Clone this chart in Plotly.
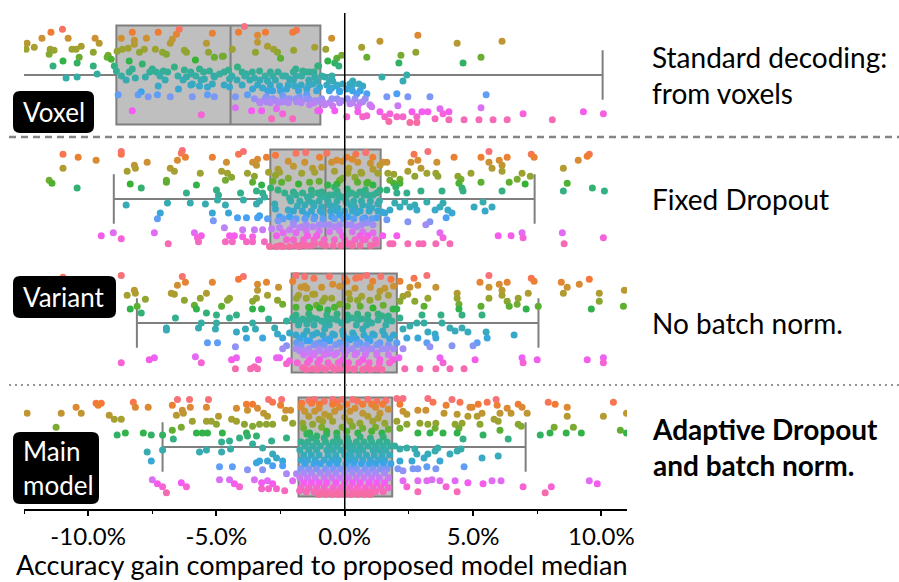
import math
import plotly.graph_objects as go

# ---------------- data ----------------
categories = ["Voxel", "Fixed Dropout", "No batch norm.", "Main"]
side_labels = ["Standard decoding:<br>from voxels", "Fixed Dropout", "No batch norm.",
               "<b>Adaptive Dropout<br>and batch norm.</b>"]
tick_vals = [-10, -5, 0, 5, 10]
tick_text = ["-10.0%", "-5.0%", "0.0%", "5.0%", "10.0%"]

# box statistics (accuracy gain, %)
box_lo = [-13.5, -9.0, -8.1, -7.1]
box_q1 = [-8.9, -2.9, -2.07, -1.8]
box_med = [-4.45, -0.75, -0.08, 0.0]
box_q3 = [-0.95, 1.4, 2.03, 1.85]
box_hi = [10.05, 7.4, 7.55, 7.05]

# individual results: (gain %, subject rank 0..1)
voxel_pts = [
(-11.8,.13),(-11.45,.07),(-11.0,.04),(-10.78,.13),(-9.73,.13),(-8.28,.07),(-7.27,.07),(-6.45,.04),(-6.56,.09),(-6.72,.14),(-6.8,.18),(-5.16,.08),(-4.14,.07),(-3.91,.01),(-3.4,.10),(-3.09,.07),(-2.03,.07),(-1.88,.05),(-3.4,.17),(-8.71,.13),(-8.2,.15),(-8.2,.19),(-7.73,.13),
(-12.38,.18),(-12.42,.24),(-12.1,.22),(-11.48,.24),(-11.33,.25),(-11.52,.29),(-10.63,.24),(-10.47,.24),(-10.27,.21),(-9.8,.27),(-9.57,.18),(-9.22,.30),(-8.87,.26),(-8.67,.24),(-8.44,.23),(-8.0,.27),(-7.81,.24),(-7.38,.24),(-7.1,.27),(-6.95,.29),(-6.25,.25),(-6.17,.27),(-5.39,.18),(-5.31,.27),(-4.73,.31),(-4.38,.24),(-3.48,.27),(-3.01,.21),(-2.77,.24),(-2.62,.27),(-1.99,.25),(-1.17,.22),(-0.74,.24),
(-11.37,.41),(-10.98,.36),(-10.35,.32),(-10.43,.38),(-9.26,.32),(-9.1,.34),(-8.4,.36),(-7.89,.39),(-5.82,.35),(-5.08,.32),(-4.77,.31),(-2.5,.33),(-1.05,.41),
(-9.8,.41),(-9.65,.49),(-10.86,.53),(-10.43,.52),(-8.98,.41),(-8.9,.46),(-8.52,.55),(-8.28,.44),(-8.16,.53),(-7.77,.52),(-7.5,.44),(-7.34,.47),(-7.07,.46),(-6.64,.42),(-6.25,.45),(-6.17,.52),(-5.98,.49),(-5.66,.44),(-5.47,.54),(-5.27,.46),(-5.08,.52),(-4.88,.49),(-4.53,.45),(-4.49,.54),(-4.18,.42),(-3.83,.49),(-3.52,.53),(-3.32,.46),(-3.01,.56),(-2.81,.51),(-2.42,.51),(-2.15,.54),(-1.91,.44),(-1.68,.51),(-1.37,.47),(-1.09,.56),(-1.02,.41),
(-6.48,.64),(-7.27,.61),(-7.93,.67),(-5.94,.59),(-5.66,.61),(-5.35,.62),(-5.16,.59),(-4.49,.62),(-3.59,.64),(-3.2,.63),(-2.81,.66),(-2.54,.61),(-2.27,.64),(-1.95,.61),(-1.48,.64),(-1.25,.59),(-0.98,.62),
(-8.83,.70),(-8.05,.70),(-7.66,.72),(-7.3,.70),(-6.8,.72),(-5.94,.72),(-5.35,.70),(-5.08,.72),(-4.26,.72),(-3.79,.70),(-3.05,.72),(-2.42,.71),(-1.76,.72),(-1.48,.70),
(-3.52,.74),(-3.32,.77),(-3.05,.77),(-2.66,.76),(-2.42,.77),(-2.15,.74),(-1.88,.77),(-1.68,.76),(-1.37,.80),(-1.05,.76),(-0.78,.80),
(-8.28,.86),(-5.59,.90),(-4.26,.83),(-3.63,.86),(-3.24,.86),(-2.66,.84),(-2.42,.89),(-2.85,.94),(-2.03,.94),(-1.05,.86),
(-0.51,.13),(1.37,.16),(2.85,.10),(4.38,.18),(6.13,.16),(0.66,.22),(2.77,.27),(2.19,.30),(0.86,.32),(-0.66,.36),(-0.39,.38),(-0.23,.41),(-0.31,.33),(-0.12,.30),(2.11,.38),(4.61,.38),(5.31,.32),
(-1.64,.46),(-1.17,.52),(-0.78,.52),(-0.47,.56),(-0.31,.61),(-0.08,.59),(0.2,.59),(0.31,.56),(0.55,.59),(0.7,.61),(1.45,.52),(2.42,.50),(2.27,.56),(-0.51,.63),(-0.2,.67),(0.08,.64),(0.47,.69),(0.86,.69),(1.64,.72),(2.03,.69),(2.46,.72),(3.32,.72),(5.51,.70),
(-1.48,.74),(-1.17,.76),(-0.86,.77),(-0.47,.81),(-0.12,.76),(0.2,.79),(0.51,.82),(0.7,.77),(0.98,.80),(1.05,.82),(-0.98,.86),(-0.39,.86),(0.08,.92),(0.51,.87),(0.7,.92),(0.86,.91),(1.37,.87),(1.56,.92),(1.76,.89),(1.72,.97),(2.03,.92),(2.07,.81),(2.27,.92),(2.54,.98),(2.62,.87),(2.81,.98),(2.81,.92),(3.01,.87),(3.24,.87),(3.52,.94),(3.71,.84),(3.83,.89),(4.06,.87),(4.06,.95),(4.65,.95),(5.23,.95),(5.31,.83),(5.78,.95),(6.33,.95),(6.95,.89),(8.09,.95),(9.3,.87),(10.08,.89),
]
# dense band inside the voxel box: (subject rank, gains)
voxel_rows = [
(.47, [-8.4,-7.6,-6.9,-6.0,-5.5,-4.7,-4.0,-3.6,-2.9,-2.6,-2.0,-1.5,-1.2]),
(.51, [-8.7,-7.2,-6.5,-5.8,-5.1,-4.4,-3.9,-3.1,-2.3,-1.9,-0.9,-0.5]),
(.55, [-7.0,-6.3,-5.6,-4.2,-3.7,-3.3,-2.7,-2.0,-1.4,-0.6]),
(.60, [-6.0,-4.7,-4.0,-3.4,-2.9,-2.2,-1.7,-1.4,-0.7,-0.3,0.3]),
(.66, [-3.0,-2.5,-1.8,-1.1,-0.6,-0.2,0.3,0.6]),
(.74, [-3.1,-2.8,-2.3,-1.9,-1.4,-0.9,-0.5,-0.3,0.1,0.4,0.8]),
(.78, [-3.3,-2.9,-2.6,-2.2,-1.7,-1.2,-0.9,-0.6,-0.2,0.3,0.6]),
]

fixed_pts = [
(-10.98,.05),(-10.39,.08),(-9.69,.11),(-8.71,.02),(-8.71,.05),(-6.33,.01),(-6.37,.04),(-6.21,.08),(-6.52,.11),(-5.16,.08),(-4.14,.05),(-3.95,.02),(-3.4,.10),(-3.05,.08),(-7.7,.13),(-4.61,.13),(-3.59,.13),(-3.44,.16),
(-10.98,.19),(-8.48,.22),(-8.2,.16),(-8.16,.19),(-6.8,.19),(-6.64,.22),(-5.63,.24),(-4.8,.22),(-4.57,.24),(-4.41,.28),(-3.79,.24),(-3.52,.27),(-2.97,.23),(-2.7,.26),(-2.54,.23),(-6.95,.31),(-6.95,.33),(-11.52,.31),(-11.41,.34),(-4.65,.31),(-3.59,.33),(-2.46,.33),
(-10.43,.39),(-8.36,.35),(-7.93,.39),(-5.78,.36),(-3.24,.36),(-2.89,.39),(-1.37,.33),
(-6.17,.44),(-5.0,.41),(-4.92,.46),(-4.96,.51),(-4.06,.44),(-3.95,.51),(-3.44,.42),(-3.2,.44),(-3.13,.48),(-8.52,.56),(-6.91,.54),(-6.02,.54),(-5.43,.55),(-4.65,.56),(-3.44,.55),(-3.32,.52),(-2.73,.55),(-2.34,.44),(-2.15,.49),
(-7.19,.64),(-7.3,.70),(-5.16,.64),(-5.12,.72),(-4.53,.64),(-4.18,.69),(-3.83,.69),(-3.4,.69),(-3.32,.67),(-3.01,.70),(-2.54,.68),(-2.15,.68),
(-4.69,.79),(-3.98,.81),(-3.52,.81),(-3.2,.81),(-2.85,.80),(-2.54,.79),(-2.15,.81),(-1.76,.79),
(-9.49,.87),(-9.02,.84),(-8.71,.90),(-7.42,.84),(-6.88,.95),(-5.86,.84),(-5.74,.89),(-5.59,.87),(-5.7,.93),(-4.65,.93),(-4.49,.87),(-4.3,.87),(-4.38,.93),(-3.98,.88),(-3.83,.93),(-3.59,.88),(-3.59,.93),(-3.13,.93),(-2.93,.98),(-2.66,.98),(-2.42,.98),(-2.15,.98),(-1.76,.98),(-2.66,.87),(-2.27,.91),
(-1.52,.03),(-0.98,.08),(0.08,.08),(0.43,.05),(0.82,.03),(1.09,.08),(-1.56,.13),(-0.51,.13),(-0.31,.11),(0.51,.13),(1.37,.16),(1.48,.13),
(-1.68,.24),(-1.25,.19),(-1.17,.23),(0.16,.19),(0.12,.24),(-0.2,.31),(-0.08,.29),(0.63,.23),(0.66,.24),(1.29,.24),(0.9,.33),(-0.66,.36),(-0.39,.38),(0.86,.34),
(-1.64,.44),(-1.45,.48),(-1.05,.44),(-0.78,.48),(-0.47,.46),(-0.12,.48),(0.27,.44),(0.59,.43),(0.9,.46),(1.25,.44),(1.37,.41),(-1.56,.56),(-1.25,.54),(-0.9,.58),(-0.59,.56),(-0.27,.59),(0.08,.54),(0.39,.58),(0.7,.56),(1.05,.59),(1.29,.55),(-1.48,.66),(-1.17,.68),(-0.86,.64),(-0.51,.68),(-0.2,.66),(0.12,.68),(0.47,.64),(0.78,.69),(1.25,.69),(1.45,.63),
(-1.64,.78),(-1.25,.78),(-0.78,.76),(-0.39,.78),(0.08,.76),(0.47,.78),(0.86,.74),(-1.45,.87),(-1.09,.87),(-0.08,.87),(0.59,.87),(0.9,.87),(-1.68,.96),(-1.17,.95),(-0.9,.95),(0.08,.95),(0.2,.95),(0.7,.91),(1.21,.95),
(-2.7,.06),(-2.2,.12),(-1.9,.04),(-0.7,.04),(-0.1,.12),(0.3,.10),(1.0,.14),
(-2.6,.20),(-2.0,.17),(-0.9,.18),(-0.4,.22),(0.4,.28),(1.1,.20),
(-2.8,.32),(-2.2,.29),(-1.8,.35),(-1.0,.32),(-0.3,.35),(0.5,.33),(1.1,.36),
(-2.6,.41),(-2.0,.43),(-1.3,.41),(-0.9,.43),(-0.3,.42),(0.1,.40),(0.8,.41),
(-2.7,.60),(-2.2,.61),(-2.6,.72),(-2.0,.73),(-2.4,.84),(-1.9,.84),(-1.5,.82),(-1.0,.82),(-0.6,.83),(-0.2,.82),(0.3,.83),(0.7,.83),(1.1,.84),
(2.7,.05),(3.24,.02),(4.26,.08),(5.31,.08),(5.62,.02),(6.02,.11),(6.33,.08),(7.27,.05),(7.38,.08),(9.1,.11),(9.45,.07),(9.53,.05),(2.58,.13),(2.85,.11),(3.59,.13),(5.62,.13),(6.13,.16),(1.64,.13),
(2.46,.22),(2.73,.27),(2.97,.19),(3.2,.24),(3.55,.24),(3.63,.27),(4.41,.27),(4.53,.30),(4.92,.24),(5.74,.19),(6.13,.22),(6.91,.24),(7.23,.27),(6.72,.30),(8.52,.19),(1.68,.24),(1.91,.25),(2.15,.30),(1.76,.31),
(1.91,.34),(1.99,.38),(2.15,.34),(4.45,.34),(4.57,.39),(5.31,.33),(6.41,.33),(7.03,.35),(8.67,.34),(8.52,.42),(9.65,.39),(10.12,.42),(2.97,.42),(3.79,.42),(4.61,.42),(6.13,.42),
(1.64,.41),(2.03,.44),(2.42,.44),(1.95,.54),(2.15,.58),(2.34,.53),(2.54,.58),(2.73,.56),(2.81,.61),(3.2,.53),(3.52,.61),(3.71,.58),(3.83,.54),(4.02,.61),(4.18,.64),(5.04,.58),(5.39,.53),(5.47,.62),(5.74,.58),(1.76,.61),(1.56,.64),
(1.64,.71),(2.46,.73),(3.16,.76),(3.32,.73),(3.95,.69),
(1.48,.87),(2.03,.87),(3.71,.84),(3.83,.89),(5.98,.87),(6.48,.87),(6.91,.84),(6.95,.89),(8.48,.84),(8.55,.95),(10.08,.89),(1.76,.95),(1.88,.95),(2.46,.95),(2.89,.95),(3.05,.95),(3.55,.95),(4.1,.95),
]
fixed_rows = [
(.46, [-1.9,-1.3,-0.95,-0.6,-0.25,0.1,0.45,0.75,1.1]),
(.52, [-2.1,-1.75,-1.4,-1.0,-0.65,-0.3,0.05,0.35,0.65,1.0,1.35]),
(.57, [-1.85,-1.2,-0.4,0.25,0.95]),
(.62, [-2.0,-1.65,-1.3,-0.95,-0.55,-0.3,0.0,0.3,0.6,0.95,1.3]),
(.70, [-2.4,-1.9,-1.55,-1.2,-0.85,-0.4,-0.05,0.35,0.7,1.05]),
(.76, [-2.0,-1.5,-1.0,-0.6,-0.2,0.25,0.65,1.1]),
(.91, [-2.0,-1.6,-1.2,-0.8,-0.4,0.0,0.4,0.8,1.2]),
(.97, [-2.5,-1.9,-1.5,-1.3,-0.75,-0.45,-0.15,0.3,0.6,1.0]),
]

variant_pts = [
(-10.98,.04),(-8.71,.02),(-8.48,.22),(-8.2,.17),(-8.16,.20),(-7.77,.26),(-8.09,.33),(-8.36,.36),(-7.93,.40),(-6.33,.03),(-6.52,.12),(-6.21,.09),(-6.76,.20),(-6.64,.21),(-6.25,.27),(-5.63,.25),(-5.39,.20),(-5.16,.09),(-5.86,.32),(-5.78,.36),(-5.39,.40),(-5.0,.42),(-4.8,.33),(-4.57,.27),(-4.49,.25),(-4.14,.06),(-3.95,.03),(-3.4,.11),(-3.05,.09),(-3.4,.17),(-3.01,.22),(-2.58,.14),(-3.59,.28),(-3.44,.25),(-2.62,.27),(-2.42,.31),(-3.59,.36),(-3.24,.36),(-4.22,.42),(-4.49,.45),(-6.6,.45),(-6.95,.55),(-6.95,.57),(-5.7,.55),(-5.59,.50),(-5.0,.50),(-5.04,.56),(-4.22,.59),(-3.87,.56),(-3.59,.50),(-3.48,.56),(-3.2,.65),(-2.97,.46),(-2.73,.55),(-2.62,.61),(-3.83,.65),(-5.35,.70),(-4.96,.70),(-4.26,.74),(-2.42,.76),(-2.54,.85),(-8.71,.90),(-7.62,.87),(-7.42,.85),(-5.82,.84),(-5.59,.90),(-4.41,.87),(-4.22,.85),(-4.26,.96),(-3.67,.96),(-3.52,.94),(-3.4,.96),(-3.36,.87),(-2.66,.85),(-2.27,.91),(-2.15,.88),
(-2.27,.48),(-2.03,.45),(-1.76,.48),(-1.48,.51),(-1.09,.46),(-0.78,.50),(-1.88,.25),(-1.48,.15),(-1.25,.21),(-0.86,.28),(-1.56,.03),(-2.03,.08),(-1.37,.35),(-0.98,.35),(-2.42,.65),(-1.88,.70),(-1.48,.68),(-1.09,.71),(-0.78,.68),(-1.76,.78),(-1.37,.80),(-0.98,.78),(-0.66,.81),(-1.64,.95),(-1.25,.96),(-0.9,.95),(-2.15,.60),(-2.27,.73),
(0.08,.08),(0.43,.05),(0.86,.02),(1.09,.08),(-0.47,.11),(-1.56,.13),(0.16,.20),(0.66,.23),(0.98,.27),(1.37,.18),(1.56,.15),(-1.17,.21),(-0.78,.25),(-0.51,.25),(-0.2,.31),(-1.41,.34),(-0.66,.37),(1.88,.36),(-1.64,.46),(-1.25,.45),(-0.9,.48),(-0.51,.46),(-0.12,.50),(0.27,.45),(0.66,.46),(1.05,.50),(1.45,.43),(1.84,.48),(-1.48,.58),(-1.09,.60),(-0.78,.56),(-0.47,.61),(-0.08,.58),(0.31,.60),(0.7,.56),(1.09,.61),(1.48,.58),(-1.37,.68),(-0.98,.70),(-0.59,.68),(-0.2,.70),(0.2,.67),(0.59,.70),(0.98,.68),(1.37,.70),(2.03,.70),(-1.56,.78),(-1.17,.80),(-0.7,.78),(-0.31,.80),(0.08,.78),(0.47,.80),(0.86,.78),(1.25,.80),(1.64,.76),(-1.37,.87),(-0.98,.87),(-0.08,.87),(0.7,.87),(1.37,.87),(1.88,.87),(-0.51,.94),(-0.2,.96),(0.12,.95),(0.39,.96),(0.86,.95),(1.25,.96),
(-1.9,.02),(-1.2,.05),(-0.6,.03),(0.0,.05),(0.6,.04),(1.4,.03),(1.8,.06),
(-1.7,.14),(-0.9,.14),(-0.2,.13),(0.4,.15),(1.0,.14),(1.9,.13),
(-1.8,.22),(-1.5,.25),(0.2,.26),(0.5,.27),(1.3,.24),(1.7,.22),
(-1.9,.34),(-1.1,.32),(-0.4,.34),(0.1,.33),(0.6,.33),(1.1,.35),(1.5,.32),
(-1.9,.42),(-1.4,.41),(-0.7,.42),(-0.3,.41),(0.1,.42),(0.5,.41),(0.9,.42),(1.3,.41),(1.7,.43),
(2.15,.08),(2.54,.14),(2.7,.05),(2.85,.12),(3.2,.02),(3.55,.14),(5.27,.09),(5.62,.02),(5.62,.14),(6.02,.11),(6.33,.09),(6.13,.17),(6.13,.22),(7.27,.05),(7.38,.08),(7.15,.20),(8.44,.09),(8.67,.14),(9.14,.11),(9.53,.06),(8.52,.20),(9.92,.20),(10.9,.17),
(2.27,.23),(2.46,.21),(2.73,.28),(3.24,.25),(4.38,.20),(4.38,.25),(4.45,.31),(5.62,.25),(6.33,.28),(6.41,.33),(6.76,.25),(6.72,.31),(9.92,.28),(2.15,.28),
(2.03,.36),(3.09,.33),(4.45,.36),(5.31,.33),(7.07,.36),(7.54,.33),(9.61,.36),(10.86,.33),
(2.15,.45),(3.01,.42),(3.09,.50),(3.75,.42),(3.79,.50),(4.57,.42),(5.35,.42),(2.27,.56),(2.54,.53),(2.81,.50),(3.24,.59),(3.52,.61),(4.1,.55),(4.3,.58),(4.57,.55),(4.8,.59),(5.51,.59),(5.55,.65),(6.6,.62),(2.42,.65),(2.85,.65),
(2.27,.76),(3.2,.70),(3.32,.74),(3.55,.65),(4.18,.73),(5.0,.73),(5.16,.70),
(2.11,.85),(3.71,.85),(3.83,.90),(5.08,.87),(6.91,.85),(6.95,.90),(7.5,.87),(9.45,.87),(10.08,.85),(10.08,.90),(2.34,.96),(2.93,.96),(3.55,.96),(4.1,.96),(4.65,.96),
]
variant_rows = [
(.47, [-1.95,-1.4,-0.7,-0.3,0.1,0.5,0.9,1.3,1.65]),
(.52, [-1.8,-1.2,-0.6,0.45,0.85,1.6]),
(.62, [-1.9,-1.6,-1.25,-0.85,-0.4,-0.05,0.35,0.75,1.15,1.55,1.9]),
(.66, [-1.75,-0.6,0.1,0.45,0.9,1.75]),
(.72, [-1.7,-1.2,-0.8,-0.35,0.05,0.45,0.85,1.25,1.7]),
(.76, [-1.9,-1.4,-1.0,-0.55,-0.1,0.3,0.7,1.05,1.45,1.9]),
(.82, [-1.6,-1.2,-0.8,-0.4,0.0,0.4,0.8,1.25,1.7]),
(.90, [-1.85,-1.45,-1.05,-0.65,-0.25,0.15,0.55,0.95,1.35,1.75]),
(.97, [-1.5,-1.1,-0.75,-0.4,0.05,0.35,0.7,1.0,1.45]),
]

main_pts = [
(-12.38,.16),(-11.25,.30),(-11.05,.16),(-10.47,.10),(-10.27,.16),(-9.69,.06),(-9.49,.06),(-9.61,.08),(-9.18,.18),(-8.98,.22),(-8.71,.22),(-8.87,.38),(-8.55,.36),(-8.24,.05),(-8.16,.10),(-7.66,.10),(-7.85,.36),(-7.54,.38),(-7.7,.55),(-7.54,.64),(-7.1,.38),(-7.1,.53),(-6.72,.08),(-6.52,.02),(-6.05,.02),(-6.02,.10),(-6.33,.13),(-6.56,.18),(-6.29,.16),(-5.94,.24),(-5.31,.02),(-5.39,.10),(-6.72,.33),(-6.37,.30),(-6.68,.42),(-5.78,.36),(-5.55,.36),(-5.35,.36),(-5.39,.24),(-5.2,.24),(-5.0,.27),(-4.92,.19),(-4.77,.36),(-5.66,.55),(-5.39,.53),(-4.8,.55),(-4.8,.45),(-4.49,.44),(-4.45,.52),(-4.22,.11),(-3.83,.07),(-3.59,.07),(-3.79,.13),(-3.4,.11),(-3.16,.16),(-2.97,.02),(-2.81,.05),(-2.5,.08),(-2.46,.02),(-2.3,.13),(-2.11,.13),(-4.41,.22),(-4.22,.24),(-3.91,.27),(-3.59,.29),(-3.32,.27),(-3.05,.27),(-2.81,.27),(-3.01,.19),(-2.34,.21),(-2.03,.26),(-3.79,.39),(-3.44,.39),(-3.83,.36),(-4.1,.41),(-3.59,.47),(-3.2,.51),(-2.85,.44),(-2.27,.41),(-2.81,.57),(-3.01,.64),(-3.32,.64),(-3.44,.66),(-2.66,.61),(-2.42,.64),(-2.81,.69),(-2.42,.69),(-4.88,.70),(-4.38,.70),(-3.79,.73),(-3.2,.73),(-2.27,.77),(-7.5,.83),(-7.3,.87),(-7.1,.90),(-6.95,.96),(-6.37,.86),(-6.17,.90),(-4.88,.83),(-4.49,.83),(-4.3,.87),(-4.1,.90),(-3.52,.83),(-3.24,.86),(-3.01,.84),(-3.24,.92),(-2.97,.92),(-2.66,.92),(-2.34,.94),(-2.81,.87),(-1.88,.77),(-2.03,.84),(-1.76,.94),
(-1.68,.06),(-1.29,.06),(-0.98,.07),(-1.56,.14),(-1.17,.14),(-0.78,.17),(-1.64,.26),(-1.25,.27),(-0.86,.24),(-1.48,.37),(-1.09,.39),(-0.7,.37),
(-1.17,.02),(-0.47,.02),(-0.08,.02),(0.31,.02),(1.25,.04),(-0.47,.07),(0.08,.07),(0.7,.07),(1.05,.07),(1.48,.07),(-0.39,.14),(0.2,.14),(0.7,.16),(1.37,.16),(-0.47,.24),(0.2,.24),(0.59,.26),(1.09,.24),(1.56,.26),(-1.37,.36),(-0.7,.34),(-0.31,.36),(0.08,.34),(0.51,.36),(1.05,.34),(1.45,.36),
(-1.4,.03),(-0.8,.04),(-0.3,.05),(0.5,.04),(0.9,.02),(1.6,.03),
(-1.7,.10),(-1.0,.11),(-0.2,.10),(0.4,.11),(1.2,.10),(1.7,.12),
(-1.4,.19),(-0.6,.19),(0.0,.20),(0.9,.19),(1.3,.21),(-1.0,.22),
(-1.6,.31),(-0.9,.30),(-0.1,.30),(0.3,.29),(0.7,.31),(1.2,.30),(1.7,.32),
(-1.3,.41),(-0.8,.41),(-0.3,.40),(0.1,.41),(0.6,.40),(1.0,.41),(1.5,.40),
(2.03,.01),(2.27,.01),(2.15,.07),(2.27,.14),(2.42,.17),(3.24,.01),(3.44,.05),(3.95,.08),(4.18,.02),(4.49,.05),(4.88,.10),(4.96,.10),(5.2,.07),(5.55,.05),(5.9,.02),(5.94,.08),(6.33,.11),(6.76,.07),(6.91,.10),(7.11,.16),(7.93,.05),(8.2,.07),(8.67,.10),(10.47,.05),(2.85,.13),(3.16,.13),(3.87,.16),(4.38,.17),(4.8,.19),(5.16,.19),(5.35,.16),(5.82,.22),(6.05,.16),(6.48,.16),(8.67,.19),(10.08,.19),(10.98,.16),
(2.03,.24),(2.15,.31),(2.42,.27),(2.93,.26),(3.24,.27),(3.55,.26),(3.52,.31),(4.3,.27),(4.57,.26),(4.45,.31),(5.27,.27),(5.98,.24),(6.76,.27),(6.88,.29),(8.16,.30),(8.91,.30),(10.74,.33),(10.98,.36),
(2.85,.36),(3.32,.36),(3.83,.36),(4.38,.36),(5.39,.38),(6.05,.33),(7.62,.38),(8.0,.36),(8.63,.36),(9.22,.36),(4.61,.42),(6.37,.42),
(1.95,.49),(2.15,.52),(2.42,.51),(2.73,.52),(2.81,.57),(3.09,.61),(3.24,.57),(3.52,.54),(3.63,.51),(3.71,.64),(4.1,.57),(4.38,.54),(4.53,.52),(5.35,.61),(5.98,.59),(2.15,.64),(2.62,.64),
(2.07,.72),(2.27,.74),(2.66,.72),(2.85,.72),(3.2,.70),(3.55,.72),(4.65,.70),
(2.27,.84),(2.42,.90),(2.85,.84),(2.85,.95),(3.2,.84),(3.4,.83),(3.71,.84),(3.95,.90),(4.3,.84),(4.38,.95),(4.8,.86),(5.39,.87),(5.74,.84),(6.09,.84),(6.95,.90),(7.81,.96),(8.05,.90),(9.53,.84),(9.84,.87),
]
main_rows = [
(.45, [-1.7,-1.45,-1.1,-0.75,-0.45,-0.2,0.15,0.45,0.75,1.05,1.35,1.65]),
(.49, [-1.55,-1.25,-0.95,-0.6,-0.3,0.05,0.3,0.6,0.9,1.2,1.5,1.8]),
(.53, [-1.75,-1.4,-1.1,-0.7,-0.45,-0.15,0.2,0.45,0.7,1.1,1.35,1.6]),
(.58, [-1.6,-1.3,-1.0,-0.65,-0.35,0.0,0.25,0.55,0.85,1.15,1.45,1.75]),
(.63, [-1.7,-1.45,-1.15,-0.8,-0.5,-0.25,0.15,0.4,0.7,1.0,1.3,1.55]),
(.67, [-1.55,-1.2,-0.95,-0.6,-0.3,0.05,0.35,0.65,0.95,1.2,1.5,1.8]),
(.72, [-1.7,-1.4,-1.1,-0.75,-0.45,-0.15,0.2,0.45,0.8,1.1,1.4,1.65]),
(.76, [-1.6,-1.3,-0.95,-0.65,-0.35,0.0,0.3,0.6,0.9,1.2,1.55]),
(.81, [-1.75,-1.45,-1.15,-0.8,-0.5,-0.2,0.15,0.45,0.75,1.05,1.35,1.7]),
(.86, [-1.6,-1.3,-1.0,-0.7,-0.35,0.0,0.3,0.6,0.95,1.25,1.55]),
(.91, [-1.7,-1.4,-1.1,-0.8,-0.45,-0.15,0.2,0.5,0.8,1.1,1.4,1.7]),
(.95, [-1.5,-1.2,-0.9,-0.6,-0.3,0.0,0.3,0.6,0.9,1.2,1.5]),
(.98, [-1.0,-0.75,-0.5,-0.25,0.0,0.25,0.5,0.75,1.0]),
]

all_points = [voxel_pts, fixed_pts, variant_pts, main_pts]
all_rows = [voxel_rows, fixed_rows, variant_rows, main_rows]

# ---------------- husl colours (seaborn husl palette) ----------------
_M = [[3.2406, -1.5372, -0.4986], [-0.9689, 1.8758, 0.0415], [0.0557, -0.2040, 1.0570]]
_refU, _refV, _E, _K = 0.19784, 0.46834, 0.008856, 903.3


def _max_chroma(L, H):
    hr = math.radians(H)
    sh, ch = math.sin(hr), math.cos(hr)
    sub1 = (L + 16) ** 3 / 1560896.0
    sub2 = sub1 if sub1 > _E else L / _K
    res = float("inf")
    for m1, m2, m3 in _M:
        top = (0.99915 * m1 + 1.05122 * m2 + 1.14460 * m3) * sub2
        rb = 0.86330 * m3 - 0.17266 * m2
        lb = 0.12949 * m3 - 0.38848 * m1
        bottom = (rb * sh + lb * ch) * sub2
        for t in (0.0, 1.0):
            C = L * (top - 1.05122 * t) / (bottom + 0.17266 * sh * t)
            if 0 < C < res:
                res = C
    return res


def husl_rgb(h, s, l):
    C = _max_chroma(l, h) / 100.0 * s
    hr = math.radians(h)
    U, V = math.cos(hr) * C, math.sin(hr) * C
    t = (l + 16) / 116.0
    Y = t ** 3 if t ** 3 > _E else (116 * t - 16) / _K
    vU = U / (13 * l) + _refU
    vV = V / (13 * l) + _refV
    X = -(9 * Y * vU) / ((vU - 4) * vV - vU * vV)
    Z = (9 * Y - 15 * vV * Y - vV * X) / (3 * vV)
    out = []
    for row in _M:
        c = row[0] * X + row[1] * Y + row[2] * Z
        c = 12.92 * c if c <= 0.0031308 else 1.055 * c ** (1 / 2.4) - 0.055
        out.append(int(round(min(max(c, 0), 1) * 255)))
    return "rgb(%d,%d,%d)" % tuple(out)


def rank_color(r):
    hue = ((0.01 + r * 0.985) % 1) * 359
    return husl_rgb(hue, 0.9 * 99, 0.65 * 99)


# ---------------- figure ----------------
W, H = 899, 582
ML, MR, MT, MB = 24, 272, 13, 73
PW, PH = W - ML - MR, H - MT - MB


def fx(px):
    return (px - ML) / PW


def fy(py):
    return 1 - (py - MT) / PH


fig = go.Figure()

fig.add_trace(go.Box(
    y=list(range(len(categories))), q1=box_q1, median=box_med, q3=box_q3,
    lowerfence=box_lo, upperfence=box_hi, orientation="h", width=0.8,
    whiskerwidth=0.5, fillcolor="#bfbfbf", line=dict(color="#7f7f7f", width=2),
    boxpoints=False, hoverinfo="skip", showlegend=False))

for ci, (pts, rows) in enumerate(zip(all_points, all_rows)):
    pts = list(pts) + [(g, r) for r, gains in rows for g in gains]
    pts = sorted(pts, key=lambda p: p[1])
    fig.add_trace(go.Scatter(
        x=[p[0] for p in pts],
        y=[ci - 0.4 + 0.8 * p[1] for p in pts],
        mode="markers",
        marker=dict(size=7, color=[rank_color(p[1]) for p in pts], line=dict(width=0)),
        hoverinfo="skip", showlegend=False))

shapes = [
    dict(type="line", xref="x", yref="paper", x0=0, x1=0, y0=0, y1=1,
         line=dict(color="black", width=1.5), layer="above"),
    dict(type="line", xref="paper", yref="y", x0=fx(9), x1=fx(899), y0=0.5, y1=0.5,
         line=dict(color="#858585", width=2.5, dash="7px,5px")),
    dict(type="line", xref="paper", yref="y", x0=fx(9), x1=fx(899), y0=2.5, y1=2.5,
         line=dict(color="#959595", width=2, dash="2px,4px")),
]


def rounded(x0, y0, x1, y1, r):
    return ("M %f,%f L %f,%f Q %f,%f %f,%f L %f,%f Q %f,%f %f,%f L %f,%f Q %f,%f %f,%f "
            "L %f,%f Q %f,%f %f,%f Z") % (
        fx(x0 + r), fy(y0), fx(x1 - r), fy(y0), fx(x1), fy(y0), fx(x1), fy(y0 + r),
        fx(x1), fy(y1 - r), fx(x1), fy(y1), fx(x1 - r), fy(y1),
        fx(x0 + r), fy(y1), fx(x0), fy(y1), fx(x0), fy(y1 - r),
        fx(x0), fy(y0 + r), fx(x0), fy(y0), fx(x0 + r), fy(y0))


tag_boxes = [("Voxel", (13, 91, 94, 133)), ("Variant", (13, 276, 116, 318)),
             ("Main<br>model", (13, 432, 99, 504))]
annotations = []
for txt, (x0, y0, x1, y1) in tag_boxes:
    shapes.append(dict(type="path", xref="paper", yref="paper", path=rounded(x0, y0, x1, y1, 7),
                       fillcolor="black", line=dict(width=0), layer="above"))
    annotations.append(dict(xref="paper", yref="paper", x=fx(x0 + 8), y=fy((y0 + y1) / 2),
                            xanchor="left", yanchor="middle", align="left", showarrow=False,
                            text=txt, font=dict(color="white", size=26)))

for ci, lab in enumerate(side_labels):
    annotations.append(dict(xref="paper", yref="y", x=fx(650), y=ci, xanchor="left",
                            yanchor="middle", align="left", showarrow=False, text=lab,
                            font=dict(color="black", size=28)))

# x-axis title as annotation, centred under the axis
annotations.append(dict(xref="paper", yref="paper", x=0.495, y=fy(564), xanchor="center",
                        yanchor="middle", showarrow=False,
                        text="Accuracy gain compared to proposed model median",
                        font=dict(color="black", size=27)))

fig.update_layout(
    width=W, height=H, margin=dict(l=ML, r=MR, t=MT, b=MB),
    paper_bgcolor="white", plot_bgcolor="white",
    font=dict(family="Lato", color="black"),
    shapes=shapes, annotations=annotations, showlegend=False,
    xaxis=dict(range=[-12.5, 11.0], tickvals=tick_vals, ticktext=tick_text,
               ticks="outside", ticklen=5, tickwidth=1.5, tickcolor="black",
               showline=True, linecolor="black", linewidth=1.5, showgrid=False, zeroline=False,
               tickfont=dict(size=24), automargin=False,
               minor=dict(ticks="outside", ticklen=3, tickwidth=1.2, tickcolor="black",
                          dtick=2.5, tick0=0, showgrid=False)),
    yaxis=dict(range=[3.5, -0.5], showticklabels=False, showgrid=False, zeroline=False,
               showline=False, ticks=""),
)

fig.write_html("out.html", config={"displayModeBar": False},
               post_script="document.body.style.margin='0';")
